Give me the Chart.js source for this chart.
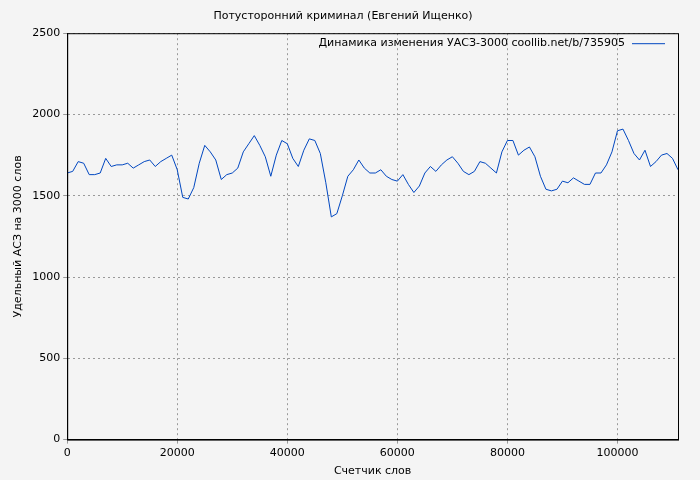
<!DOCTYPE html><html><head><meta charset="utf-8"><script src="https://cdn.jsdelivr.net/npm/chart.js"></script>
<style>body{margin:0;background:#f4f4f4}#w{width:700px;height:480px}</style></head><body><div id="w"><canvas id="c"></canvas></div><script>
const xs=[];for(let i=0;i<=111;i++)xs.push(i*1000);
const vals=[1640,1650,1710,1700,1630,1630,1640,1730,1680,1690,1690,1700,1670,1690,1710,1720,1680,1710,1730,1750,1660,1490,1480,1550,1700,1810,1770,1720,1600,1630,1640,1670,1770,1820,1870,1810,1740,1620,1750,1840,1820,1730,1680,1780,1850,1840,1760,1580,1370,1390,1500,1620,1660,1720,1670,1640,1640,1660,1620,1600,1590,1630,1570,1520,1560,1640,1680,1650,1690,1720,1740,1700,1650,1630,1650,1710,1700,1670,1640,1770,1840,1840,1750,1780,1800,1740,1620,1540,1530,1540,1590,1580,1610,1590,1570,1570,1640,1640,1690,1770,1900,1910,1840,1760,1720,1780,1680,1710,1750,1760,1730,1660];
const xTicks=[0,20000,40000,60000,80000,100000];
const title='Потусторонний криминал (Евгений Ищенко)';
const seriesName='Динамика изменения УАСЗ-3000 coollib.net/b/735905';
Chart.defaults.font.family='DejaVu Sans';Chart.defaults.font.size=11;Chart.defaults.color='#000';
new Chart(document.getElementById('c'),{type:'line',data:{datasets:[{label:seriesName,data:xs.map((x,i)=>({x,y:vals[i]})),borderColor:'#0047c0',borderWidth:1,pointRadius:0,tension:0}]},
options:{responsive:true,maintainAspectRatio:false,animation:false,layout:{padding:{right:22,left:8}},
plugins:{title:{display:true,text:title,font:{size:11,weight:'normal'},padding:{top:10,bottom:10}},legend:{display:false}},
scales:{x:{type:'linear',min:0,max:111000,afterBuildTicks:s=>{s.ticks=xTicks.map(v=>({value:v}));},ticks:{callback:v=>String(v),maxRotation:0},grid:{color:'#999',tickLength:4},border:{color:'#000',dash:[2,3]},title:{display:true,text:'Счетчик слов',padding:2}},
y:{min:0,max:2500,ticks:{stepSize:500,callback:v=>String(v)},grid:{color:'#999',tickLength:4},border:{color:'#000',dash:[2,3]},title:{display:true,text:'Удельный АСЗ на 3000 слов',padding:4}}}},
plugins:[{id:'g',beforeDraw(c){const x=c.ctx;x.save();x.fillStyle='#f4f4f4';x.fillRect(0,0,c.width,c.height);x.restore();},
afterDraw(c){const a=c.chartArea,x=c.ctx;x.save();x.strokeStyle='#000';x.lineWidth=1;x.strokeRect(a.left+.5,a.top+.5,a.right-a.left,a.bottom-a.top);
x.font='11px DejaVu Sans';x.fillStyle='#000';x.textAlign='right';x.textBaseline='middle';const y=a.top+10;x.fillText(seriesName,a.right-53,y);
x.strokeStyle='#0047c0';x.beginPath();x.moveTo(a.right-46,y+.5);x.lineTo(a.right-13,y+.5);x.stroke();x.restore();}}]});
</script></body></html>
